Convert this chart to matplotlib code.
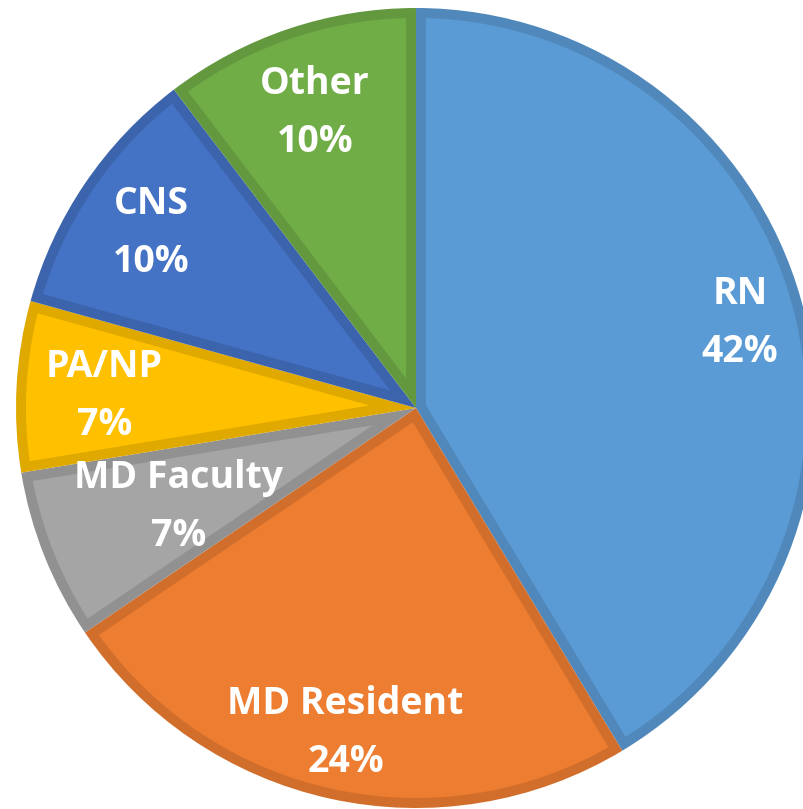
###############################################################################
### Pie chart of respondents by role
###############################################################################

#------------------------------------------------------------------------------
### Import packages
import matplotlib.pyplot as plt
import matplotlib.colors as mcolors
from matplotlib.patches import Polygon
import numpy as np


#------------------------------------------------------------------------------
### Data
roles = ['RN', 'MD Resident', 'MD Faculty', 'PA/NP', 'CNS', 'Other']
counts = [12, 7, 2, 2, 3, 3]
pct_labels = ['42%', '24%', '7%', '7%', '10%', '10%']

#------------------------------------------------------------------------------
### Style
COLORS = ['#5B9BD5', '#ED7D31', '#A5A5A5', '#FFC000', '#4472C4', '#70AD47']
EDGE_DARK = 0.88
BORDER = 10          # width of the darker inner band, px
LABEL_RADII = [0.84, 0.82, 0.64, 0.78, 0.80, 0.79]
LINE_GAP = 29        # half distance between the two label lines, px
W, H = 804, 809
CENTER = (416, H - 408)
RADIUS = 400


def darker(c, f):
	r, g, b = mcolors.to_rgb(c)
	return (r * f, g * f, b * f)


# Wedge shrunk inward by t on every side
def inner_wedge(th1, th2, t):
	a1, a2 = np.deg2rad(th1), np.deg2rad(th2)
	half = (a2 - a1) / 2
	s = np.sqrt((RADIUS - t) ** 2 - t ** 2)
	d = np.arctan2(t, s)
	arc = np.linspace(a1 + d, a2 - d, 200)
	apex = t / np.sin(half)
	mid = a1 + half
	pts = [(CENTER[0] + apex * np.cos(mid), CENTER[1] + apex * np.sin(mid))]
	pts += [(CENTER[0] + (RADIUS - t) * np.cos(a), CENTER[1] + (RADIUS - t) * np.sin(a)) for a in arc]
	return pts


#------------------------------------------------------------------------------
### Plot
fig = plt.figure(figsize=(W / 100, H / 100), dpi=100)
ax = fig.add_axes([0, 0, 1, 1])

wedges, _ = ax.pie(counts, colors=COLORS, startangle=90, counterclock=False,
				   center=CENTER, radius=RADIUS, frame=True,
				   wedgeprops=dict(linewidth=0))
ax.set_xlim(0, W)
ax.set_ylim(0, H)
ax.set_aspect('equal')
ax.axis('off')

# Outer wedge in the darker shade, inner shrunk wedge in the main colour
for w, c in zip(wedges, COLORS):
	w.set_facecolor(darker(c, EDGE_DARK))
	ax.add_patch(Polygon(inner_wedge(w.theta1, w.theta2, BORDER), closed=True,
						 facecolor=c, edgecolor='none'))

# Labels placed along the middle angle of each wedge
for w, role, pct, rr in zip(wedges, roles, pct_labels, LABEL_RADII):
	mid = np.deg2rad((w.theta1 + w.theta2) / 2)
	x = CENTER[0] + rr * RADIUS * np.cos(mid)
	y = CENTER[1] + rr * RADIUS * np.sin(mid)
	for txt, dy in ((role, LINE_GAP), (pct, -LINE_GAP)):
		ax.text(x, y + dy, txt, ha='center', va='center_baseline', color='white',
				fontsize=27, fontweight='bold', family='Open Sans')

fig.savefig('out.png', dpi=100)
plt.close()
